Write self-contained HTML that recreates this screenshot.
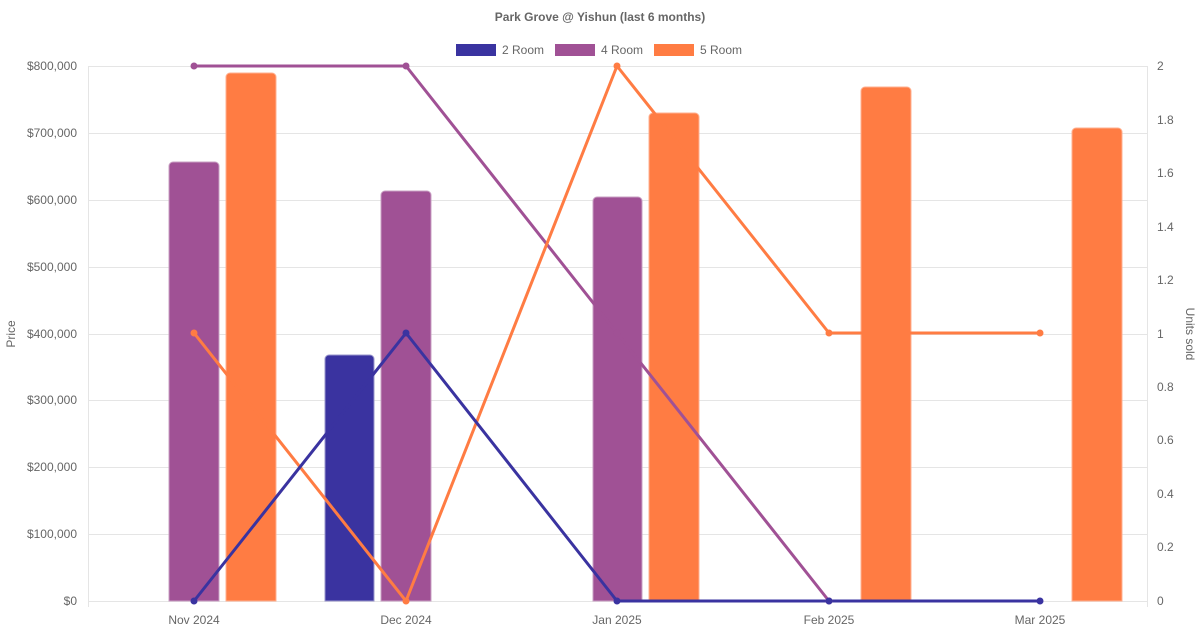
<!DOCTYPE html>
<html><head><meta charset="utf-8"><style>
html,body{margin:0;padding:0;background:#fff;}
svg{display:block;font-family:"Liberation Sans",Arial,sans-serif;}
</style></head><body>
<svg width="1200" height="630" viewBox="0 0 1200 630">
<text x="600" y="21" text-anchor="middle" font-size="12" font-weight="bold" fill="#666">Park Grove @ Yishun (last 6 months)</text>
<g font-size="12" fill="#666">
<rect x="456" y="44" width="40" height="12" fill="#3A33A0"/><text x="502" y="54">2 Room</text>
<rect x="555" y="44" width="40" height="12" fill="#A05195"/><text x="601" y="54">4 Room</text>
<rect x="654" y="44" width="40" height="12" fill="#FF7C43"/><text x="700" y="54">5 Room</text>
</g>
<g stroke="#e5e5e5" stroke-width="1">
<line x1="88" y1="66.5" x2="1147" y2="66.5"/>
<line x1="88" y1="133.5" x2="1147" y2="133.5"/>
<line x1="88" y1="200.5" x2="1147" y2="200.5"/>
<line x1="88" y1="267.5" x2="1147" y2="267.5"/>
<line x1="88" y1="334.5" x2="1147" y2="334.5"/>
<line x1="88" y1="400.5" x2="1147" y2="400.5"/>
<line x1="88" y1="467.5" x2="1147" y2="467.5"/>
<line x1="88" y1="534.5" x2="1147" y2="534.5"/>
<line x1="88" y1="601.5" x2="1147" y2="601.5"/>
<line x1="88.5" y1="66" x2="88.5" y2="607"/>
<line x1="1147.5" y1="66" x2="1147.5" y2="607"/>
</g>
<g font-size="12" fill="#666" text-anchor="end">
<text x="77" y="70">$800,000</text><text x="77" y="137">$700,000</text><text x="77" y="204">$600,000</text><text x="77" y="271">$500,000</text><text x="77" y="338">$400,000</text><text x="77" y="404">$300,000</text><text x="77" y="471">$200,000</text><text x="77" y="538">$100,000</text><text x="77" y="605">$0</text>
</g>
<g font-size="12" fill="#666">
<text x="1157" y="70">2</text><text x="1157" y="124">1.8</text><text x="1157" y="177">1.6</text><text x="1157" y="231">1.4</text><text x="1157" y="284">1.2</text><text x="1157" y="338">1</text><text x="1157" y="391">0.8</text><text x="1157" y="444">0.6</text><text x="1157" y="498">0.4</text><text x="1157" y="551">0.2</text><text x="1157" y="605">0</text>
</g>
<g font-size="12" fill="#666" text-anchor="middle">
<text x="194" y="624">Nov 2024</text><text x="406" y="624">Dec 2024</text><text x="617" y="624">Jan 2025</text><text x="829" y="624">Feb 2025</text><text x="1040" y="624">Mar 2025</text>
</g>
<text transform="translate(15,334) rotate(-90)" text-anchor="middle" font-size="12" fill="#666">Price</text>
<text transform="translate(1186,334) rotate(90)" text-anchor="middle" font-size="12" fill="#666">Units sold</text>
<g stroke-width="1">
<path d="M169,601V166a4,4 0 0 1 4,-4h42a4,4 0 0 1 4,4V601z" fill="#A05195" stroke="#c9a0c3"/>
<path d="M226,601V77a4,4 0 0 1 4,-4h42a4,4 0 0 1 4,4V601z" fill="#FF7C43" stroke="#ffb090"/>
<path d="M325,601V359a4,4 0 0 1 4,-4h41a4,4 0 0 1 4,4V601z" fill="#3A33A0" stroke="#9a97cc"/>
<path d="M381,601V195a4,4 0 0 1 4,-4h42a4,4 0 0 1 4,4V601z" fill="#A05195" stroke="#c9a0c3"/>
<path d="M593,601V201a4,4 0 0 1 4,-4h41a4,4 0 0 1 4,4V601z" fill="#A05195" stroke="#c9a0c3"/>
<path d="M649,601V117a4,4 0 0 1 4,-4h42a4,4 0 0 1 4,4V601z" fill="#FF7C43" stroke="#ffb090"/>
<path d="M861,601V91a4,4 0 0 1 4,-4h42a4,4 0 0 1 4,4V601z" fill="#FF7C43" stroke="#ffb090"/>
<path d="M1072,601V132a4,4 0 0 1 4,-4h42a4,4 0 0 1 4,4V601z" fill="#FF7C43" stroke="#ffb090"/>
</g>
<g fill="none" stroke-width="3" stroke-linejoin="round">
<polyline points="194,66 406,66 617,333 829,601" stroke="#A05195"/>
<polyline points="194,333 406,601 617,66 829,333 1040,333" stroke="#FF7C43"/>
<polyline points="194,601 406,333 617,601 829,601 1040,601" stroke="#3A33A0"/>
</g>
<g fill="#A05195"><circle cx="194" cy="66" r="3.5"/><circle cx="406" cy="66" r="3.5"/><circle cx="617" cy="333" r="3.5"/><circle cx="829" cy="601" r="3.5"/></g>
<g fill="#FF7C43"><circle cx="194" cy="333" r="3.5"/><circle cx="406" cy="601" r="3.5"/><circle cx="617" cy="66" r="3.5"/><circle cx="829" cy="333" r="3.5"/><circle cx="1040" cy="333" r="3.5"/></g>
<g fill="#3A33A0"><circle cx="194" cy="601" r="3.5"/><circle cx="406" cy="333" r="3.5"/><circle cx="617" cy="601" r="3.5"/><circle cx="829" cy="601" r="3.5"/><circle cx="1040" cy="601" r="3.5"/></g>
</svg>
</body></html>
